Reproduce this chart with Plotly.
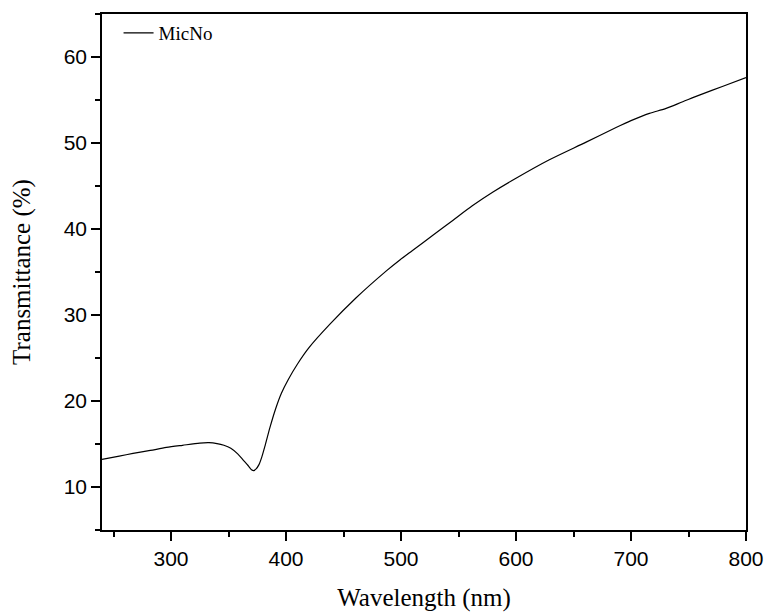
import plotly.graph_objects as go

wavelength = [240, 255, 267, 282, 296, 310, 325, 333, 340, 346, 352, 358, 363, 367, 370, 372, 374, 376.5,
              379, 382, 386, 391, 396, 402, 410, 420, 438, 461, 487, 499, 510, 528, 545, 562, 580, 600,
              629, 661, 687, 700, 716, 730, 745, 760, 780, 800]
transmittance = [13.2, 13.6, 13.9, 14.25, 14.6, 14.85, 15.1, 15.15, 15.05, 14.85, 14.5, 13.85, 13.1, 12.5,
                 12.0, 11.9, 12.1, 12.6, 13.5, 14.9, 16.9, 19.1, 20.9, 22.5, 24.3, 26.2, 28.9, 32.0, 35.1,
                 36.4, 37.5, 39.3, 41.0, 42.7, 44.3, 45.9, 48.05, 50.1, 51.8, 52.6, 53.45, 54.0, 54.8,
                 55.6, 56.6, 57.6]
series_name = "MicNo"
x_ticks = [300, 400, 500, 600, 700, 800]
y_ticks = [10, 20, 30, 40, 50, 60]

fig = go.Figure()
fig.add_trace(go.Scatter(x=wavelength, y=transmittance, mode="lines", name=series_name,
                         line=dict(color="black", width=1.2, shape="spline", smoothing=0.8)))

axis_common = dict(showline=True, linecolor="black", linewidth=1.6, mirror=True,
                   ticks="outside", ticklen=9, tickwidth=1.5, tickcolor="black",
                   showgrid=False, zeroline=False, automargin=False,
                   tickfont=dict(family="Liberation Sans, Arial", size=21, color="black"))

title_font = dict(family="Liberation Serif, Times New Roman", size=25, color="black")

fig.update_xaxes(range=[240, 800], tickvals=x_ticks,
                 minor=dict(ticks="outside", ticklen=5, tickwidth=1.5, tickcolor="black", dtick=50, tick0=0),
                 title=dict(text="Wavelength (nm)", font=title_font, standoff=20),
                 **axis_common)
fig.update_yaxes(range=[5, 65], tickvals=y_ticks,
                 minor=dict(ticks="outside", ticklen=5, tickwidth=1.5, tickcolor="black", dtick=5, tick0=0),
                 title=dict(text="Transmittance (%)", font=title_font, standoff=26),
                 **axis_common)

fig.update_layout(width=766, height=612, margin=dict(l=102, r=20, t=14, b=82),
                  paper_bgcolor="white", plot_bgcolor="white",
                  showlegend=True,
                  legend=dict(x=0.0257, y=1.0, xanchor="left", yanchor="top", bgcolor="rgba(0,0,0,0)",
                              font=dict(family="Liberation Serif, Times New Roman", size=19, color="black")))

# remove the default page margin so the 766x612 figure fills the window exactly
fig.write_html("out.html",
               config={"displayModeBar": False},
               post_script="document.body.style.margin='0';document.body.style.overflow='hidden';")
